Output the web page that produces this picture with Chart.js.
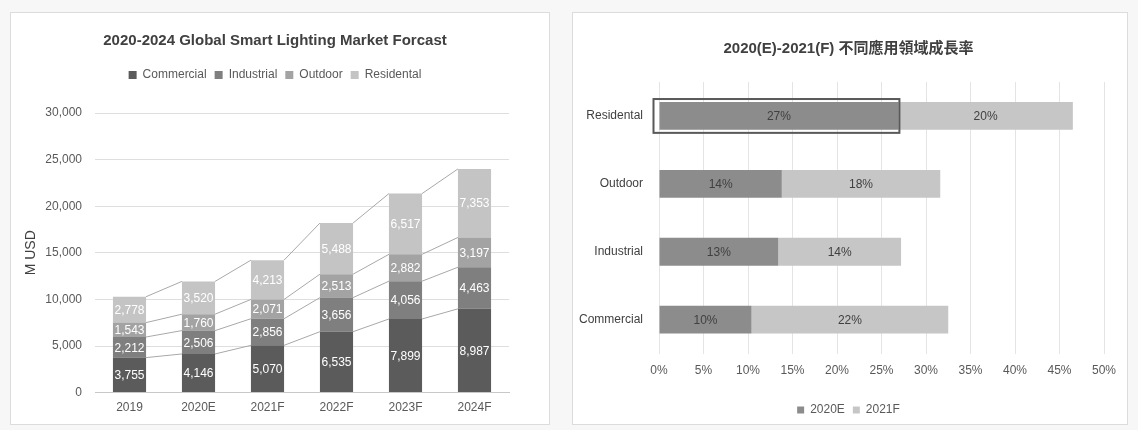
<!DOCTYPE html>
<html><head><meta charset="utf-8">
<script src="https://cdn.jsdelivr.net/npm/chart.js@4.4.0/dist/chart.umd.min.js"></script>
<style>
html,body{margin:0;padding:0;background:#f7f7f7;width:1138px;height:430px;overflow:hidden;}
.panel{position:absolute;background:#fff;border:1px solid #dcdcdc;box-sizing:border-box;}
#p1{left:10px;top:12px;width:540px;height:413px;}
#p2{left:572px;top:12px;width:556px;height:413px;}
canvas{display:block;}
</style></head>
<body>
<div class="panel" id="p1"><canvas id="c1" width="540" height="413"></canvas></div>
<div class="panel" id="p2"><canvas id="c2" width="556" height="413"></canvas></div>
<script>
// ---- Left chart data ----
const years = ['2019','2020E','2021F','2022F','2023F','2024F'];
const commercial  = [3755, 4146, 5070, 6535, 7899, 8987];
const industrial  = [2212, 2506, 2856, 3656, 4056, 4463];
const outdoor     = [1543, 1760, 2071, 2513, 2882, 3197];
const residential = [2778, 3520, 4213, 5488, 6517, 7353];
const yTicks = [0, 5000, 10000, 15000, 20000, 25000, 30000];

// ---- Right chart data ----
const sectors = ['Residental', 'Outdoor', 'Industrial', 'Commercial'];
const growth2020E = [26.9, 13.8, 13.4, 10.4];
const growth2021F = [19.6, 17.8, 13.8, 22.1];
const pctTicks = [0, 5, 10, 15, 20, 25, 30, 35, 40, 45, 50];

const SANS = '"Liberation Sans", Arial, sans-serif';
const CJK = '"Liberation Sans", Arial, "Noto Sans CJK TC", sans-serif';

const segLabels = {
  id: 'segLabels',
  afterDatasetsDraw(chart, args, opts) {
    const ctx = chart.ctx;
    ctx.save();
    ctx.fillStyle = opts.color;
    ctx.font = opts.font;
    ctx.textAlign = 'center';
    ctx.textBaseline = 'middle';
    chart.data.datasets.forEach((ds, i) => {
      const meta = chart.getDatasetMeta(i);
      meta.data.forEach((el, j) => {
        const p = el.getProps(['x', 'y', 'base'], true);
        let cx, cy;
        if (chart.options.indexAxis === 'y') { cx = (p.x + p.base) / 2; cy = p.y; }
        else { cx = p.x; cy = (p.y + p.base) / 2; }
        ctx.fillText(opts.format(ds.data[j]), cx, cy + 1);
      });
    });
    ctx.restore();
  }
};

const legendGap = {
  id: 'legendGap',
  beforeInit(chart, args, opts) {
    const lg = chart.legend;
    if (!lg) return;
    const fit = lg.fit;
    lg.fit = function () { fit.call(this); this.height += (opts.extra || 0); };
  }
};

const shiftBoxes = {
  id: 'shiftBoxes',
  afterLayout(chart, args, opts) {
    const dx = opts.dx || 0;
    [chart.titleBlock, chart.legend].forEach(b => { if (b) { b.left += dx; b.right += dx; } });
  }
};

const seriesLines = {
  id: 'seriesLines',
  beforeDatasetsDraw(chart) {
    const ctx = chart.ctx;
    ctx.save();
    ctx.strokeStyle = '#a8a8a8';
    ctx.lineWidth = 1;
    chart.data.datasets.forEach((ds, i) => {
      const els = chart.getDatasetMeta(i).data;
      for (let j = 0; j < els.length - 1; j++) {
        const a = els[j].getProps(['x', 'y', 'width'], true);
        const b = els[j + 1].getProps(['x', 'y', 'width'], true);
        ctx.beginPath();
        ctx.moveTo(a.x + a.width / 2, a.y);
        ctx.lineTo(b.x - b.width / 2, b.y);
        ctx.stroke();
      }
    });
    ctx.restore();
  }
};

const highlightBox = {
  id: 'highlightBox',
  afterDatasetsDraw(chart) {
    const el = chart.getDatasetMeta(0).data[0];
    const p = el.getProps(['x', 'y', 'base', 'height'], true);
    const ctx = chart.ctx;
    ctx.save();
    ctx.strokeStyle = '#595959';
    ctx.lineWidth = 2;
    ctx.strokeRect(p.base - 6, p.y - p.height / 2 - 3, (p.x + 1) - (p.base - 6), p.height + 6);
    ctx.restore();
  }
};

new Chart(document.getElementById('c1'), {
  type: 'bar',
  data: {
    labels: years,
    datasets: [
      { label: 'Commercial', data: commercial, backgroundColor: '#5b5b5b' },
      { label: 'Industrial', data: industrial, backgroundColor: '#7f7f7f' },
      { label: 'Outdoor', data: outdoor, backgroundColor: '#a3a3a3' },
      { label: 'Residental', data: residential, backgroundColor: '#c4c4c4' }
    ]
  },
  options: {
    responsive: false,
    animation: false,
    datasets: { bar: { categoryPercentage: 1, barPercentage: 0.48 } },
    layout: { padding: { left: 8, right: 42, top: 0, bottom: 11 } },
    scales: {
      x: {
        stacked: true,
        grid: { display: false },
        border: { color: '#c8c8c8' },
        ticks: { color: '#595959', font: { size: 12, family: SANS }, padding: 0 }
      },
      y: {
        stacked: true, min: 0, max: 30000,
        afterBuildTicks(s) { s.ticks = yTicks.map(v => ({ value: v })); },
        afterFit(s) { s.width = 76; },
        ticks: { color: '#595959', font: { size: 12, family: SANS }, padding: 13,
                 callback: v => v.toLocaleString('en-US') },
        grid: { color: '#dedede', drawTicks: false },
        border: { display: false },
        title: { display: true, text: 'M USD', color: '#404040', font: { size: 14, family: SANS } }
      }
    },
    plugins: {
      title: { display: true, text: '2020-2024 Global Smart Lighting Market Forcast', color: '#404040',
               font: { size: 15, weight: 'bold', family: SANS }, padding: { top: 19, bottom: 11 } },
      legend: { labels: { boxWidth: 8, boxHeight: 8, color: '#595959', padding: 8, font: { size: 12, family: SANS } } },
      legendGap: { extra: 22 },
      shiftBoxes: { dx: 11 },
      tooltip: { enabled: false },
      segLabels: { color: '#ffffff', font: '12px ' + SANS, format: v => v.toLocaleString('en-US') }
    }
  },
  plugins: [legendGap, shiftBoxes, seriesLines, segLabels]
});

new Chart(document.getElementById('c2'), {
  type: 'bar',
  data: {
    labels: sectors,
    datasets: [
      { label: '2020E', data: growth2020E, backgroundColor: '#8c8c8c' },
      { label: '2021F', data: growth2021F, backgroundColor: '#c6c6c6' }
    ]
  },
  options: {
    responsive: false,
    animation: false,
    indexAxis: 'y',
    datasets: { bar: { categoryPercentage: 1, barPercentage: 0.41 } },
    layout: { padding: { left: 0, right: 25, top: 0, bottom: 0 } },
    scales: {
      x: {
        stacked: true, min: 0, max: 50,
        afterBuildTicks(s) { s.ticks = pctTicks.map(v => ({ value: v })); },
        afterFit(s) { s.height += 8; },
        ticks: { color: '#595959', font: { size: 12, family: SANS }, padding: 10, callback: v => v + '%' },
        grid: { color: '#e4e4e4', drawTicks: false },
        border: { display: false }
      },
      y: {
        stacked: true,
        afterFit(s) { s.width = 86; },
        grid: { display: false },
        border: { display: false },
        ticks: { color: '#404040', font: { size: 12, family: SANS }, padding: 8 }
      }
    },
    plugins: {
      title: { display: true, text: '2020(E)-2021(F) 不同應用領域成長率', color: '#404040',
               font: { size: 15, weight: 'bold', family: CJK }, padding: { top: 27, bottom: 24 } },
      legend: { position: 'bottom', labels: { boxWidth: 7, boxHeight: 7, color: '#595959', padding: 8, font: { size: 12, family: SANS } } },
      shiftBoxes: { dx: 10 },
      tooltip: { enabled: false },
      segLabels: { color: '#404040', font: '12px ' + SANS, format: v => Math.round(v) + '%' }
    }
  },
  plugins: [shiftBoxes, segLabels, highlightBox]
});
</script>
</body></html>
